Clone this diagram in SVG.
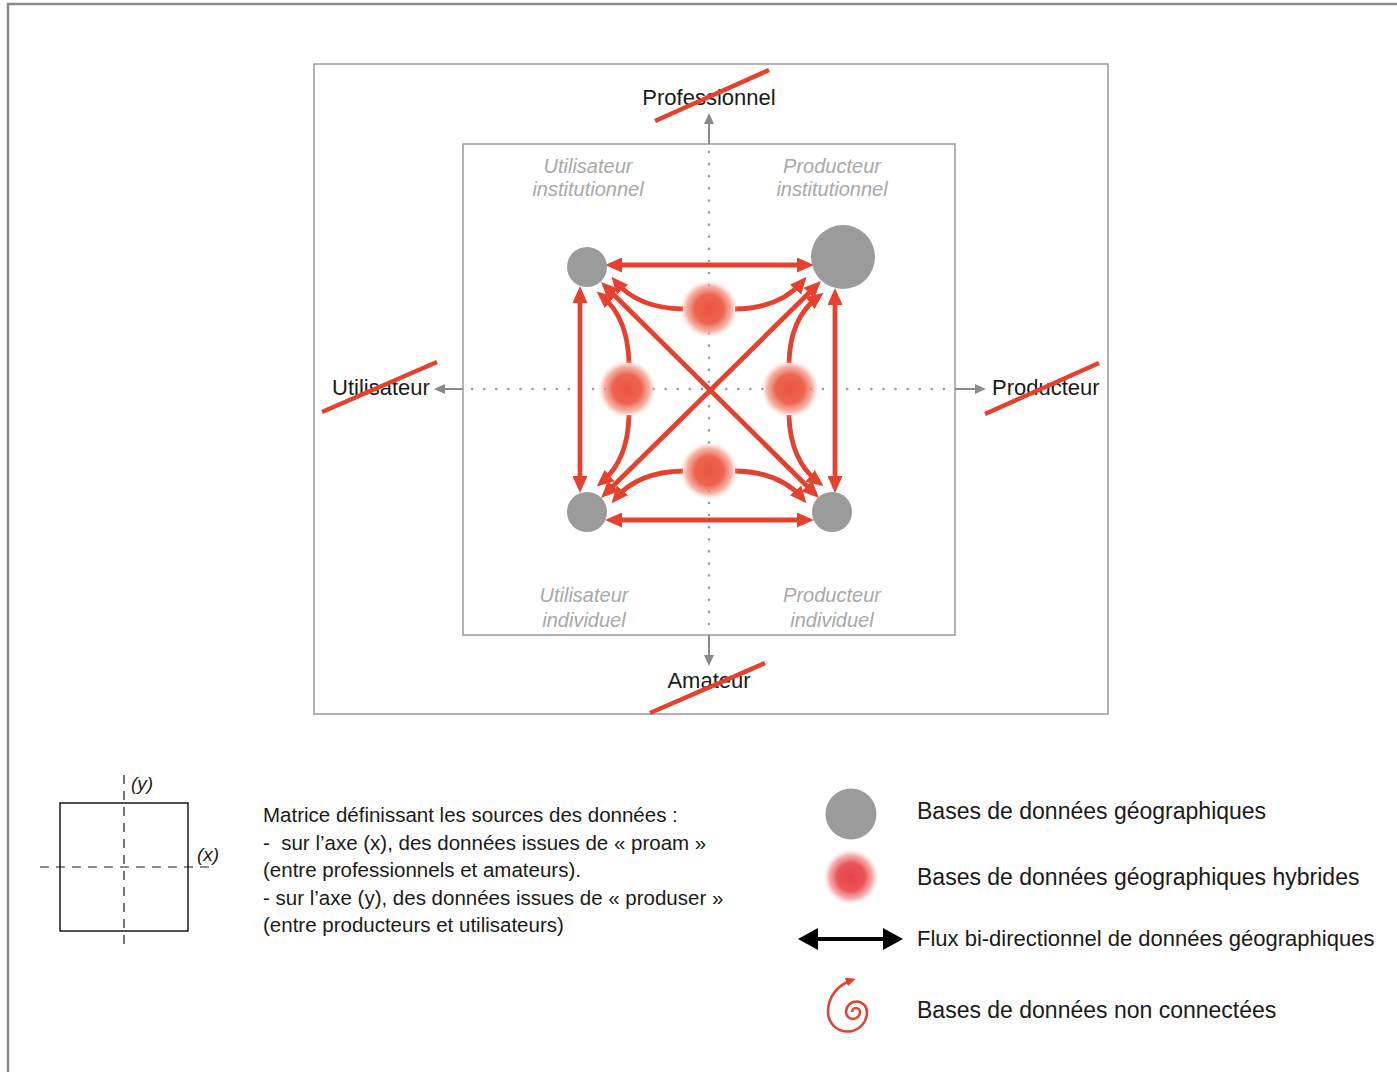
<svg xmlns="http://www.w3.org/2000/svg" width="1397" height="1072" viewBox="0 0 1397 1072">
<style>
  .frame { fill: none; stroke: #9a9a9a; stroke-width: 1.5; }
  .axis { fill: none; stroke: #8a8a8a; stroke-width: 2; }
  .dots { fill: none; stroke: #999; stroke-width: 2.5; stroke-dasharray: 0.1 12; stroke-linecap: round; }
  .flow { fill: none; stroke: #e5412f; stroke-width: 4.8; }
  .strike { stroke: #e5412f; stroke-width: 4.5; stroke-linecap: butt; }
  .db { fill: #9b9b9b; }
  .lbl { font-family: "Liberation Sans", Arial, sans-serif; font-size: 22px; fill: #1a1a1a; }
  .quad { font-family: "Liberation Sans", Arial, sans-serif; font-size: 20px; font-style: italic; fill: #a8a8a8; text-anchor: middle; }
  .leg { font-family: "Liberation Sans", Arial, sans-serif; font-size: 23px; fill: #1a1a1a; }
  .note { font-family: "Liberation Sans", Arial, sans-serif; font-size: 20.5px; fill: #1a1a1a; white-space: pre; }
  .ital { font-family: "Liberation Sans", Arial, sans-serif; font-size: 19px; font-style: italic; fill: #1a1a1a; }
</style>
<defs>
  <marker id="ra" markerUnits="userSpaceOnUse" markerWidth="17" markerHeight="15" refX="10" refY="7.5" orient="auto-start-reverse">
    <path d="M0,0 L17,7.5 L0,15 z" fill="#e5412f"/>
  </marker>
  <marker id="ga" markerUnits="userSpaceOnUse" markerWidth="11" markerHeight="10" refX="8" refY="5" orient="auto">
    <path d="M0,0 L11,5 L0,10 z" fill="#8a8a8a"/>
  </marker>
  <marker id="ba" markerUnits="userSpaceOnUse" markerWidth="20" markerHeight="22" refX="10" refY="11" orient="auto-start-reverse">
    <path d="M0,0 L20,11 L0,22 z" fill="#000"/>
  </marker>
  <marker id="sa" markerUnits="userSpaceOnUse" markerWidth="10" markerHeight="9" refX="6" refY="4.5" orient="auto">
    <path d="M0,0 L10,4.5 L0,9 z" fill="#e5412f"/>
  </marker>
  <radialGradient id="hyb">
    <stop offset="0" stop-color="#ea5440"/>
    <stop offset="0.5" stop-color="#ed6450"/>
    <stop offset="0.78" stop-color="#f29a88" stop-opacity="0.75"/>
    <stop offset="1" stop-color="#fbd5cd" stop-opacity="0"/>
  </radialGradient>
  <radialGradient id="hybleg">
    <stop offset="0" stop-color="#e8434a"/>
    <stop offset="0.5" stop-color="#eb5458"/>
    <stop offset="0.78" stop-color="#f29496" stop-opacity="0.75"/>
    <stop offset="1" stop-color="#fde0e0" stop-opacity="0"/>
  </radialGradient>
</defs>

<rect width="1397" height="1072" fill="#fff"/>
<!-- page border -->
<path d="M8,1072 V4 H1397" fill="none" stroke="#8a8a8a" stroke-width="2.5"/>

<!-- frames -->
<rect class="frame" x="314" y="64" width="794" height="650"/>
<rect class="frame" x="463" y="144" width="492" height="491"/>

<!-- axes -->
<g id="axes">
  <line class="dots" x1="709" y1="152" x2="709" y2="630"/>
  <line class="dots" x1="472" y1="389" x2="950" y2="389"/>
  <line class="axis" x1="709" y1="144" x2="709" y2="116" marker-end="url(#ga)"/>
  <line class="axis" x1="463" y1="389" x2="437" y2="389" marker-end="url(#ga)"/>
  <line class="axis" x1="955" y1="389" x2="983" y2="389" marker-end="url(#ga)"/>
  <line class="axis" x1="709" y1="635" x2="709" y2="663" marker-end="url(#ga)"/>
</g>

<!-- axis labels -->
<g id="label-professionnel">
  <text class="lbl" x="709" y="105" text-anchor="middle">Professionnel</text>
  <line class="strike" x1="655" y1="121" x2="769" y2="70"/>
</g>
<g id="label-utilisateur">
  <text class="lbl" x="332" y="395">Utilisateur</text>
  <line class="strike" x1="322" y1="412" x2="437" y2="362"/>
</g>
<g id="label-producteur">
  <text class="lbl" x="992" y="395">Producteur</text>
  <line class="strike" x1="985" y1="414" x2="1099" y2="363"/>
</g>
<g id="label-amateur">
  <text class="lbl" x="709" y="688" text-anchor="middle">Amateur</text>
  <line class="strike" x1="650" y1="713" x2="765" y2="663"/>
</g>

<!-- quadrant labels -->
<g id="q-ui"><text class="quad" x="588" y="173">Utilisateur</text><text class="quad" x="588" y="196">institutionnel</text></g>
<g id="q-pi"><text class="quad" x="832" y="173">Producteur</text><text class="quad" x="832" y="196">institutionnel</text></g>
<g id="q-uind"><text class="quad" x="584" y="602">Utilisateur</text><text class="quad" x="584" y="627">individuel</text></g>
<g id="q-pind"><text class="quad" x="832" y="602">Producteur</text><text class="quad" x="832" y="627">individuel</text></g>

<!-- connectors -->
<g id="connectors">
  <path class="flow" d="M612,265 H807" marker-start="url(#ra)" marker-end="url(#ra)"/>
  <path class="flow" d="M612,520 H807" marker-start="url(#ra)" marker-end="url(#ra)"/>
  <path class="flow" d="M580,293 V486" marker-start="url(#ra)" marker-end="url(#ra)"/>
  <path class="flow" d="M835,295 V486" marker-start="url(#ra)" marker-end="url(#ra)"/>
  <path class="flow" d="M606,287 L814,493" marker-start="url(#ra)" marker-end="url(#ra)"/>
  <path class="flow" d="M816,286 L606,493" marker-start="url(#ra)" marker-end="url(#ra)"/>
  <path class="flow" d="M683,309 Q638,308 616,282" marker-end="url(#ra)"/>
  <path class="flow" d="M735,309 Q780,308 802,282" marker-end="url(#ra)"/>
  <path class="flow" d="M683,471 Q638,472 616,498" marker-end="url(#ra)"/>
  <path class="flow" d="M735,471 Q780,472 802,498" marker-end="url(#ra)"/>
  <path class="flow" d="M629,363 Q628,318 602,296" marker-end="url(#ra)"/>
  <path class="flow" d="M629,415 Q628,460 602,482" marker-end="url(#ra)"/>
  <path class="flow" d="M789,363 Q790,318 818,297" marker-end="url(#ra)"/>
  <path class="flow" d="M789,415 Q790,460 818,482" marker-end="url(#ra)"/>
</g>

<!-- database nodes -->
<g id="db-ui"><circle class="db" cx="587" cy="267" r="20"/></g>
<g id="db-pi"><circle class="db" cx="843" cy="257" r="32"/></g>
<g id="db-uind"><circle class="db" cx="587" cy="512" r="20"/></g>
<g id="db-pind"><circle class="db" cx="832" cy="512" r="20"/></g>

<!-- hybrid nodes -->
<g id="hyb-top"><circle cx="709" cy="309" r="29" fill="url(#hyb)"/></g>
<g id="hyb-left"><circle cx="627" cy="389" r="29" fill="url(#hyb)"/></g>
<g id="hyb-right"><circle cx="790" cy="389" r="29" fill="url(#hyb)"/></g>
<g id="hyb-bottom"><circle cx="709" cy="471" r="29" fill="url(#hyb)"/></g>

<!-- matrix legend -->
<g id="legend-matrix">
  <rect x="60" y="803" width="128" height="128" fill="none" stroke="#1a1a1a" stroke-width="1.5"/>
  <line x1="124" y1="775" x2="124" y2="950" stroke="#1a1a1a" stroke-width="1.2" stroke-dasharray="9 7"/>
  <line x1="40" y1="867" x2="212" y2="867" stroke="#1a1a1a" stroke-width="1.2" stroke-dasharray="9 7"/>
  <text class="ital" x="131" y="790">(y)</text>
  <text class="ital" x="197" y="861">(x)</text>
</g>
<g id="legend-note">
  <text class="note" x="263" y="822">Matrice définissant les sources des données :</text>
  <text class="note" x="263" y="850">-  sur l’axe (x), des données issues de « proam »</text>
  <text class="note" x="263" y="877">(entre professionnels et amateurs).</text>
  <text class="note" x="263" y="905">- sur l’axe (y), des données issues de « produser »</text>
  <text class="note" x="263" y="932">(entre producteurs et utilisateurs)</text>
</g>

<!-- symbol legend -->
<g id="legend-db">
  <circle class="db" cx="851" cy="814" r="25.5"/>
  <text class="leg" x="917" y="819">Bases de données géographiques</text>
</g>
<g id="legend-hyb">
  <circle cx="851" cy="877" r="28" fill="url(#hybleg)"/>
  <text class="leg" x="917" y="885">Bases de données géographiques hybrides</text>
</g>
<g id="legend-flux">
  <line x1="808" y1="939" x2="893" y2="939" stroke="#000" stroke-width="4" marker-start="url(#ba)" marker-end="url(#ba)"/>
  <text class="leg" x="917" y="946" style="font-size:22px">Flux bi-directionnel de données géographiques</text>
</g>
<g id="legend-spiral">
  <path d="M852,1012 A4,4 0 0 1 860,1012 A7,7 0 0 1 846,1012 A10.5,10.5 0 0 1 867,1012 A19.5,19.5 0 0 1 828,1012 C828,996 838,985 852,980" fill="none" stroke="#e5412f" stroke-width="2.5" marker-end="url(#sa)"/>
  <text class="leg" x="917" y="1018">Bases de données non connectées</text>
</g>
</svg>
